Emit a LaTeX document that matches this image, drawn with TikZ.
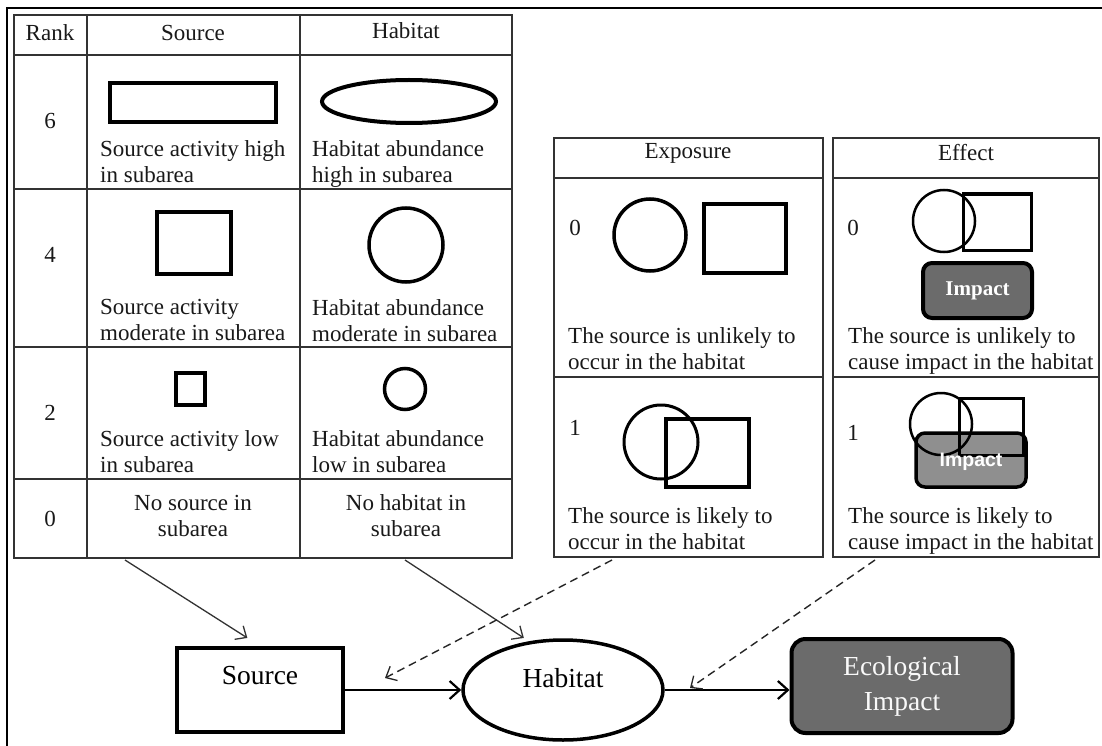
\documentclass[tikz,border=0pt]{standalone}
\usepackage{fontspec}
\setmainfont{Liberation Serif}
\newfontfamily\impactsans{Liberation Sans}
\usetikzlibrary{arrows.meta,shapes.geometric,calc}
\definecolor{gridc}{gray}{0.2}
\definecolor{impdark}{HTML}{6B6B6B}
\definecolor{implight}{HTML}{8F8F8F}
\newcommand\cellfont{\fontsize{23}{26}\selectfont}
\newcommand\bigfont{\fontsize{27.5}{35}\selectfont}

\begin{document}
\begin{tikzpicture}[x=1pt,y=-1pt,
  grid/.style={draw=gridc,line width=1.4pt},
  celltext/.style={font=\cellfont,align=left,inner sep=0pt,anchor=north west,text=black!90},
  ctext/.style={font=\cellfont,align=center,inner sep=0pt,text=black!90},
  glyph/.style={draw=black,line width=#1},
  impbox/.style={draw=black,rounded corners=9pt,inner sep=0pt},
  srcbox/.style={draw=black,line width=4pt,minimum width=166pt,minimum height=84pt,
    inner sep=0pt,font=\bigfont,text height=18pt,text depth=30pt},
  habnode/.style={ellipse,draw=black,line width=3.5pt,minimum width=200pt,minimum height=100pt,
    inner sep=0pt,font=\bigfont,text height=18pt,text depth=24pt},
  econode/.style={draw=black,line width=4pt,rounded corners=14pt,fill=impdark,
    minimum width=221pt,minimum height=94pt,inner sep=0pt,align=center,
    font=\bigfont,text=white!95!gray},
  thickarrow/.style={line width=2.5pt,-{Straight Barb[length=10pt,width=18pt,line width=2.2pt]}},
  thinarrow/.style={line width=1.3pt,draw=black!80,-{Straight Barb[length=9pt,width=16pt,line width=1.3pt]}},
  dasharrow/.style={line width=1.4pt,draw=black!85,dash pattern=on 8pt off 5pt,
    -{Straight Barb[length=9pt,width=16pt,line width=1.3pt]}}
]
\useasboundingbox (0,0) rectangle (1102,746);
\fill[white] (0,0) rectangle (1102,746);

% outer frame
\draw[line width=2.5pt] (7,746) -- (7,8) -- (1102,8);

% ---------- rank table ----------
\draw[grid] (14,15) rectangle (512,558);
\draw[grid] (87,15) -- (87,558) (300,15) -- (300,558);
\draw[grid] (14,55) -- (512,55) (14,189) -- (512,189) (14,347) -- (512,347) (14,479) -- (512,479);

\node[ctext] (rankH) at (50,33) {Rank};
\node[ctext] (srcH) at (193,33) {Source};
\node[ctext] (habH) at (406,31) {Habitat};
\node[ctext] (r6) at (50,121) {6};
\node[ctext] (r4) at (50,255) {4};
\node[ctext] (r2) at (50,413) {2};
\node[ctext] (r0) at (50,519) {0};

% rank 6
\draw[glyph=4.5pt] (110,83) rectangle (276,122);
\draw[glyph=4pt] (409,101.5) ellipse [x radius=87, y radius=21.5];
\node[celltext] (s6) at (100,140.5) {Source activity high\\in subarea};
\node[celltext] (h6) at (312,140.5) {Habitat abundance\\high in subarea};
% rank 4
\draw[glyph=4pt] (157,212) rectangle (231,274);
\draw[glyph=3.5pt] (406,245) circle [radius=37];
\node[celltext] (s4) at (100,299.5) {Source activity\\moderate in subarea};
\node[celltext] (h4) at (312,299.5) {Habitat abundance\\moderate in subarea};
% rank 2
\draw[glyph=4pt] (176,373) rectangle (205,405);
\draw[glyph=3.5pt] (405,389) circle [radius=20.5];
\node[celltext] (s2) at (100,430.5) {Source activity low\\in subarea};
\node[celltext] (h2) at (312,430.5) {Habitat abundance\\low in subarea};
% rank 0
\node[ctext] (s0) at (193,516) {No source in\\subarea};
\node[ctext] (h0) at (406,516) {No habitat in\\subarea};

% ---------- exposure table ----------
\draw[grid] (554,138) rectangle (823,557);
\draw[grid] (554,178) -- (823,178) (554,377) -- (823,377);
\node[ctext] (expH) at (688,153) {Exposure};
\node[ctext] (e0) at (575,228) {0};
\node[ctext] (e1) at (575,428) {1};
\draw[glyph=3.5pt] (650,235) circle [radius=36];
\draw[glyph=4pt] (704,204) rectangle (786,273);
\node[celltext] (e0t) at (568,327.5) {The source is unlikely to\\occur in the habitat};
\draw[glyph=3pt] (661,442) circle [radius=37];
\draw[glyph=4.5pt] (666,419) rectangle (749,487);
\node[celltext] (e1t) at (568,507.5) {The source is likely to\\occur in the habitat};

% ---------- effect table ----------
\draw[grid] (833,138) rectangle (1099,557);
\draw[grid] (833,178) -- (1099,178) (833,377) -- (1099,377);
\node[ctext] (effH) at (966,153) {Effect};
\node[ctext] (f0) at (853,228) {0};
\node[ctext] (f1) at (853,433) {1};
% effect 0
\draw[glyph=2.5pt] (944,221) circle [radius=31];
\draw[glyph=3pt] (963,194) rectangle (1031,250);
\node[impbox,line width=4pt,fill=impdark,minimum width=109pt,minimum height=55pt,
  text=white,font=\fontsize{21}{24}\selectfont\bfseries] (imp0) at (977.5,290.5) {Impact};
\node[celltext] (f0t) at (848,327.5) {The source is unlikely to\\cause impact in the habitat};
% effect 1
\node[impbox,line width=3.5pt,fill=implight,minimum width=110pt,minimum height=54pt] (imp1box) at (971,460) {};
\draw[glyph=2.5pt] (941,424) circle [radius=31];
\draw[glyph=3pt] (959,398) rectangle (1023,455);
\node[inner sep=0pt,text=white,font=\impactsans\fontsize{19.5}{22}\selectfont\bfseries] (imp1) at (971,462) {Impact};
\node[celltext] (f1t) at (848,507.5) {The source is likely to\\cause impact in the habitat};

% ---------- model ----------
\node[srcbox] (src) at (260,690) {Source};
\node[habnode] (hab) at (563,690) {Habitat};
\node[econode] (eco) at (902,686) {Ecological\\Impact};

\draw[thickarrow] (src.east) -- (hab.west);
\draw[thickarrow] (hab.east) -- (hab.east -| eco.west);

\coordinate (tabS) at (125,560);
\coordinate (tabH) at (405,560);
\coordinate (expB) at (612,560);
\coordinate (effB) at (875,560);
\coordinate (expTip) at (385,678);
\coordinate (effTip) at (690,688);

\draw[thinarrow,shorten >=15pt] (tabS) -- (src.north);
\draw[thinarrow,shorten >=6pt] (tabH) -- (hab.125);
\draw[dasharrow] (expB) -- (expTip);
\draw[dasharrow] (effB) -- (effTip);
\end{tikzpicture}
\end{document}
